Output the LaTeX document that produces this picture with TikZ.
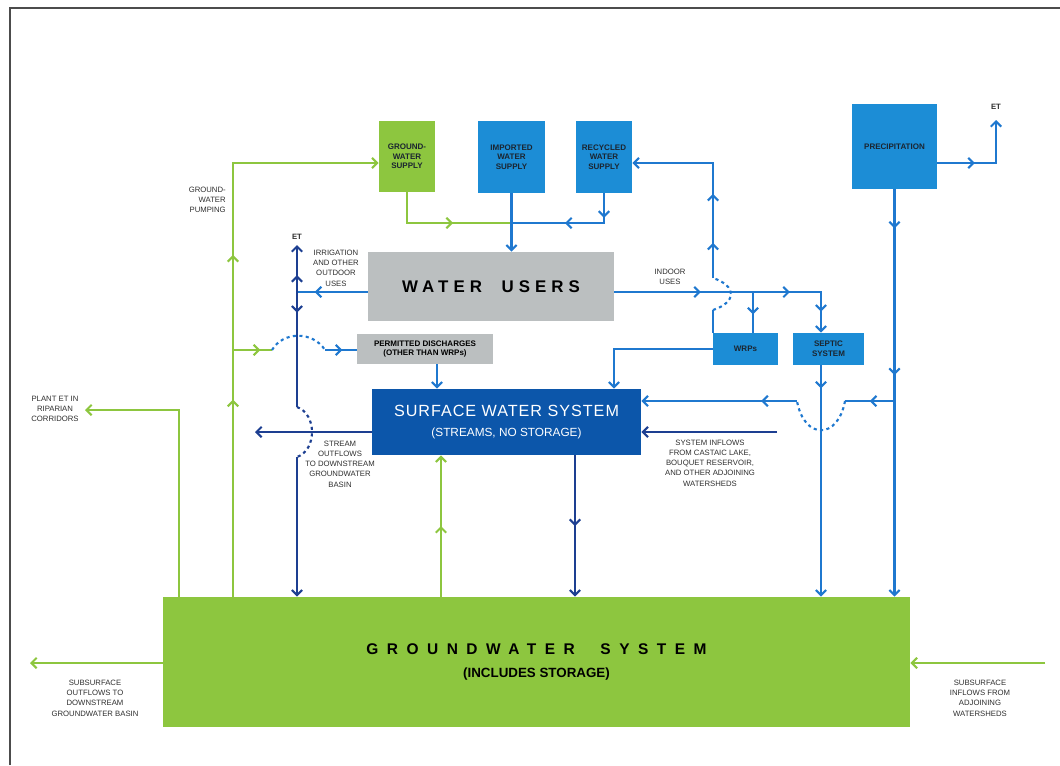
\documentclass[tikz,border=0pt]{standalone}
\usepackage{fontspec}
\setmainfont{Liberation Sans}
\newfontfamily\widefont[LetterSpace=30]{Liberation Sans}
\newfontfamily\widerfont[LetterSpace=55]{Liberation Sans}
\usepackage{tikz}
\usetikzlibrary{arrows.meta,calc,positioning,decorations.markings}

\definecolor{gwgreen}{HTML}{8DC63F}
\definecolor{boxblue}{HTML}{1C8DD6}
\definecolor{swblue}{HTML}{0C56AA}
\definecolor{usergray}{HTML}{BBBFC0}
\definecolor{lineblue}{HTML}{1F78CF}
\definecolor{navyline}{HTML}{1D3F91}
\definecolor{notegray}{HTML}{2E2E2E}
\definecolor{boxtext}{HTML}{1B2530}

\begin{document}
\begin{tikzpicture}[x=0.025cm,y=-0.025cm,
  >={Straight Barb[length=1.3mm,width=2.6mm]},
  box/.style={draw=none,inner sep=0pt,align=center,text=boxtext,
    font=\fontsize{5.7}{6.8}\selectfont\bfseries},
  gbox/.style={box,fill=gwgreen},
  bbox/.style={box,fill=boxblue},
  note/.style={inner sep=0pt,align=center,text=notegray,
    font=\fontsize{5.5}{7.3}\selectfont},
  gline/.style={line width=1.5pt,color=gwgreen},
  bline/.style={line width=1.5pt,color=lineblue},
  dline/.style={line width=1.5pt,color=navyline},
  hop/.style={dash pattern=on 2.2pt off 2.4pt},
  midarr/.style={postaction={decorate,decoration={markings,
    mark=at position #1 with {\arrow{>}}}}},
]
\useasboundingbox (0,0) rectangle (1060,765);
\draw[gray!60!black,line width=0.8pt] (10,765) -- (10,8) -- (1060,8);

% the supplies
\node[gbox,minimum width=1.4cm,minimum height=1.775cm] (gwsup) at (407,156.5) {GROUND-\\WATER\\SUPPLY};
\node[bbox,minimum width=1.675cm,minimum height=1.8cm] (impsup) at (511.5,157) {IMPORTED\\WATER\\SUPPLY};
\node[bbox,minimum width=1.4cm,minimum height=1.8cm] (recsup) at (604,157) {RECYCLED\\WATER\\SUPPLY};
\node[bbox,minimum width=2.125cm,minimum height=2.125cm] (precip) at (894.5,146.5) {PRECIPITATION};

% the users and the systems
\node[box,fill=usergray,minimum width=6.15cm,minimum height=1.725cm,
  font=\fontsize{12}{14}\selectfont\widefont\bfseries,text=black] (users) at (491,286.5) {WATER \ USERS};
\node[box,fill=usergray,minimum width=3.4cm,minimum height=0.75cm,text=black] (permit) at (425,349) {PERMITTED DISCHARGES\\(OTHER THAN WRPs)};
\node[bbox,minimum width=1.625cm,minimum height=0.8cm] (wrps) at (745.5,349) {WRPs};
\node[bbox,minimum width=1.775cm,minimum height=0.8cm] (septic) at (828.5,349) {SEPTIC\\SYSTEM};
\node[box,fill=swblue,minimum width=6.725cm,minimum height=1.65cm,text=white,
  font=\fontsize{11.5}{15}\selectfont] (surface) at (506.5,422)
  {{\addfontfeature{LetterSpace=6}SURFACE WATER SYSTEM}\\[-1pt]{\fontsize{8.4}{10}\selectfont (STREAMS, NO STORAGE)}};
\node[gbox,minimum width=18.675cm,minimum height=3.25cm,text=black,
  font=\fontsize{11}{17}\selectfont\bfseries] (gwsys) at (536.5,662)
  {{\widerfont\bfseries GROUNDWATER \ SYSTEM}\\{\fontsize{9.5}{11}\selectfont (INCLUDES STORAGE)}};

% the bends and free ends
\coordinate (pump) at (233,163);
\coordinate (pd) at (233,350);
\coordinate (hopA1) at (272,350);
\coordinate (hopA2) at (325,350);
\coordinate (pet) at (179,410);
\coordinate (petend) at (85,410);
\coordinate (rch) at (441,500);
\coordinate (jn) at (511,223);
\coordinate (irr) at (297,292);
\coordinate (et1) at (297,245);
\coordinate (hopB1) at (297,407);
\coordinate (hopB2) at (297,457);
\coordinate (sout) at (255,432);
\coordinate (pdown) at (437,376);
\coordinate (ind) at (821,292);
\coordinate (wb) at (753,292);
\coordinate (hopC1) at (713,310);
\coordinate (hopC2) at (713,278);
\coordinate (rr) at (713,163);
\coordinate (ws) at (614,349);
\coordinate (pe) at (996,163);
\coordinate (et2) at (996,120);
\coordinate (hopD1) at (845,401);
\coordinate (hopD2) at (797,401);
\coordinate (sin) at (777,432);
\coordinate (sg) at (575,500);
\coordinate (sub1) at (30,663);
\coordinate (sub2) at (1045,663);

% the groundwater flows
\draw[gline,->,midarr=0.34,midarr=0.59] (pump |- gwsys.north) -- (pump) -- (pump -| gwsup.west);
\draw[gline,midarr=0.7] (pd) -- (hopA1);
\draw[bline,hop] (hopA1) .. controls (283,331) and (313,331) .. (hopA2);
\draw[bline,midarr=0.55] (hopA2) -- (hopA2 -| permit.west);
\draw[gline,->] (pet |- gwsys.north) -- (pet) -- (petend);
\draw[gline,->,midarr=0.5] (rch |- gwsys.north) -- (rch |- surface.south);
\draw[gline,->] (sub1 -| gwsys.west) -- (sub1);
\draw[gline,->] (sub2) -- (sub2 -| gwsys.east);

% the supplies to the users
\draw[gline,midarr=0.57] (gwsup.south) |- (jn);
\draw[bline,midarr=0.2,midarr=0.56] (recsup.south) |- (jn);
\draw[bline,->] (impsup.south) -- (impsup.south |- users.north);

% outdoor uses and stream outflows
\draw[bline,midarr=0.75] (irr -| users.west) -- (irr);
\draw[dline,->,midarr=0.36] (irr) -- (et1);
\draw[dline,midarr=0.18] (irr) -- (hopB1);
\draw[dline,hop] (hopB1) .. controls (317,414) and (317,450) .. (hopB2);
\draw[dline,->] (hopB2) -- (hopB2 |- gwsys.north);
\draw[dline,->] (sout -| surface.west) -- (sout);
\draw[bline,->] (pdown |- permit.south) -- (pdown |- surface.north);

% indoor uses
\draw[bline,->,midarr=0.35,midarr=0.71,midarr=0.915] (ind -| users.east) -| (ind |- septic.north);
\draw[bline,midarr=0.55] (wb) -- (wb |- wrps.north);
\draw[bline] (hopC1 |- wrps.north) -- (hopC1);
\draw[bline,hop] (hopC1) .. controls (737,302) and (737,286) .. (hopC2);
\draw[bline,->,midarr=0.18,midarr=0.43] (hopC2) |- (rr -| recsup.east);
\draw[bline,->] (ws -| wrps.west) -| (ws |- surface.north);
\draw[bline,->,midarr=0.1] (ind |- septic.south) -- (ind |- gwsys.north);

% precipitation and inflows
\draw[bline,->,midarr=0.096,midarr=0.456] (precip.south) -- (precip.south |- gwsys.north);
\draw[bline,->,midarr=0.37] (pe -| precip.east) -| (et2);
\draw[bline,midarr=0.5] (hopD1 -| precip.south) -- (hopD1);
\draw[bline,hop] (hopD1) .. controls (838,440) and (804,440) .. (hopD2);
\draw[bline,->,midarr=0.23] (hopD2) -- (hopD2 -| surface.east);
\draw[dline,->] (sin) -- (sin -| surface.east);
\draw[dline,->,midarr=0.5] (sg |- surface.south) -- (sg |- gwsys.north);

% the labels
\node[note,anchor=east,align=right] (pumplbl) at (226,200) {GROUND-\\WATER\\PUMPING};
\node[note] (petlbl) at (55,409) {PLANT ET IN\\RIPARIAN\\CORRIDORS};
\node[note] (irrlbl) at (336,268) {IRRIGATION\\AND OTHER\\OUTDOOR\\USES};
\node[note,font=\fontsize{5.5}{7}\selectfont\bfseries] (et1lbl) at (297,237) {ET};
\node[note,font=\fontsize{5.5}{7}\selectfont\bfseries] (et2lbl) at (996,107) {ET};
\node[note] (indlbl) at (670,277) {INDOOR\\USES};
\node[note] (soutlbl) at (340,464) {STREAM\\OUTFLOWS\\TO DOWNSTREAM\\GROUNDWATER\\BASIN};
\node[note] (sinlbl) at (710,463) {SYSTEM INFLOWS\\FROM CASTAIC LAKE,\\BOUQUET RESERVOIR,\\AND OTHER ADJOINING\\WATERSHEDS};
\node[note] (sub1lbl) at (95,698) {SUBSURFACE\\OUTFLOWS TO\\DOWNSTREAM\\GROUNDWATER BASIN};
\node[note] (sub2lbl) at (980,698) {SUBSURFACE\\INFLOWS FROM\\ADJOINING\\WATERSHEDS};
\end{tikzpicture}
\end{document}
